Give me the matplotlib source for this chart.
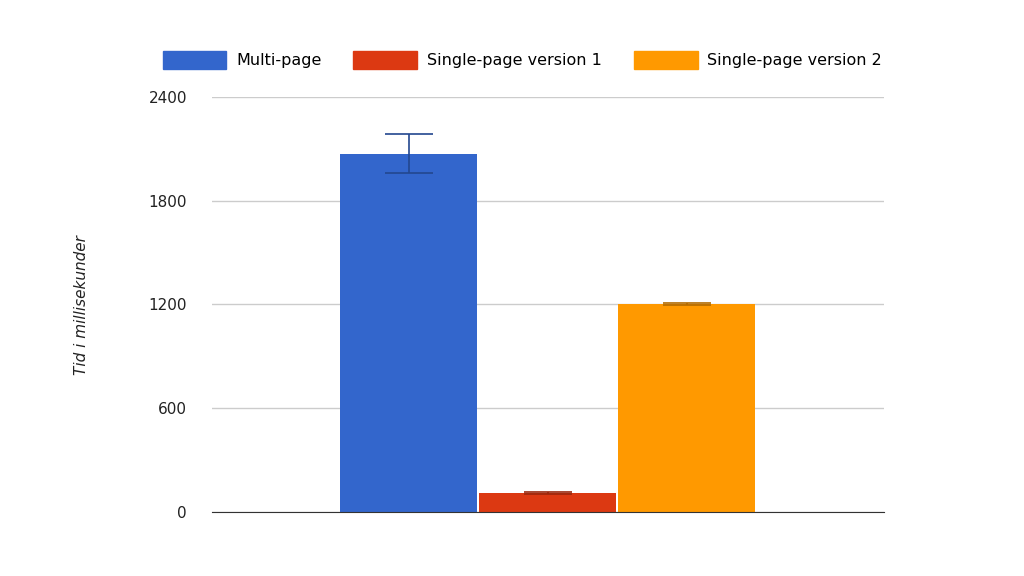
import matplotlib
matplotlib.use("Agg")
import matplotlib.pyplot as plt
from matplotlib.patches import Patch

series = ["Multi-page", "Single-page version 1", "Single-page version 2"]
values = [2070, 110, 1203]
errors = [113, 5, 8]
colors = ["#3366cc", "#dc3912", "#ff9900"]
err_colors = ["#23478f", "#9a270d", "#b36b00"]
yticks = [0, 600, 1200, 1800, 2400]

fig = plt.figure(figsize=(10.24, 5.76), dpi=100)
ax = fig.add_axes([0.207, 0.111, 0.656, 0.721])
w = 0.204
offs = [-0.207, 0.0, 0.207]
for o, v, e, c, ec in zip(offs, values, errors, colors, err_colors):
    ax.bar(o, v, width=w, color=c, zorder=2)
    ax.errorbar(o, v, yerr=e, ecolor=ec, capsize=17, elinewidth=1.2, capthick=1.2, fmt="none", zorder=3)
ax.set_xlim(-0.5, 0.5)
ax.set_ylim(0, 2400)
ax.set_yticks(yticks)
ax.set_yticklabels([str(t) for t in yticks], fontsize=11, color="#222222")
ax.set_xticks([])
ax.grid(axis="y", color="#cccccc", lw=1, zorder=0)
for s in ["top", "right", "left"]:
    ax.spines[s].set_visible(False)
ax.spines["bottom"].set_color("#333333")
ax.tick_params(axis="y", length=0, pad=18)
fig.text(0.08, 0.47, "Tid i millisekunder", rotation=90, style="italic", fontsize=11, ha="center", va="center", color="#222222")
handles = [Patch(color=c) for c in colors]
fig.legend(handles, series, loc="center", bbox_to_anchor=(0.51, 0.896), ncol=3, frameon=False,
           fontsize=11.5, handlelength=4, handleheight=1.3, columnspacing=2, handletextpad=0.6)
fig.savefig("out.png", dpi=100)
